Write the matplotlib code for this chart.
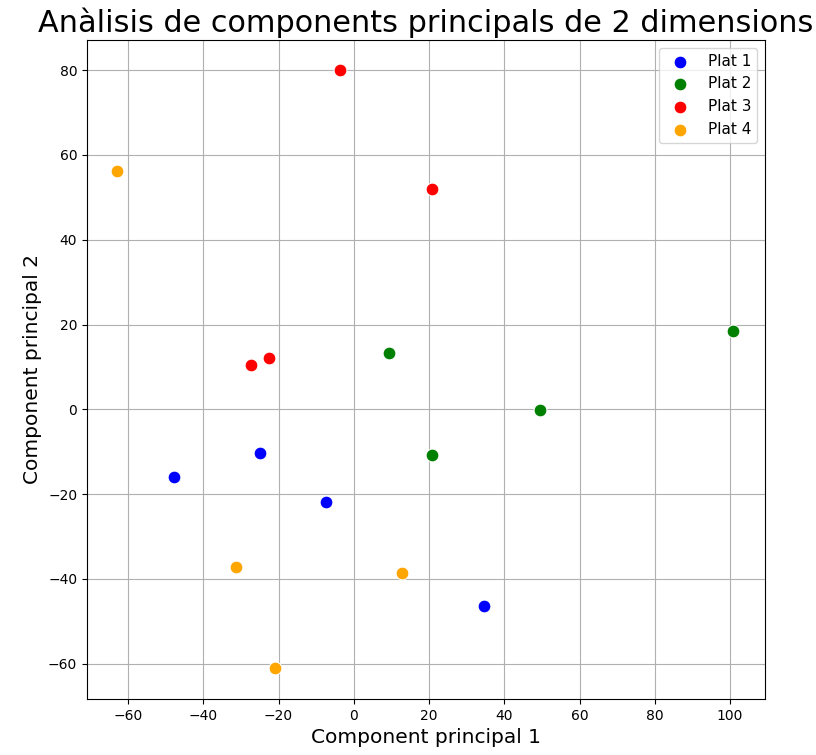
import matplotlib.pyplot as plt

# PCA scores per dish (component 1, component 2)
plats = ['Plat 1', 'Plat 2', 'Plat 3', 'Plat 4']
colors = ['blue', 'green', 'red', 'orange']
pc1 = [
    [-47.9, -25.0, -7.4, 34.6],
    [9.3, 49.5, 20.7, 100.8],
    [-3.7, 20.7, -27.4, -22.6],
    [-63.0, -31.4, 12.8, -21.0],
]
pc2 = [
    [-16.0, -10.3, -21.9, -46.4],
    [13.3, -0.2, -10.8, 18.5],
    [80.0, 52.0, 10.5, 12.1],
    [56.2, -37.2, -38.6, -61.0],
]

fig = plt.figure(figsize=(8.16, 7.55), dpi=100)
ax = fig.add_axes([87/816, 1-699/755, (765-87)/816, (699-40)/755])

for name, c, xs, ys in zip(plats, colors, pc1, pc2):
    ax.scatter(xs, ys, s=85, c=c, edgecolors='white', linewidths=0.75,
               label=name, zorder=3)

ax.set_xlim(-70.9, 109.3)
ax.set_ylim(-68.3, 87.1)
ax.set_xticks(range(-60, 101, 20))
ax.set_yticks(range(-60, 81, 20))
ax.tick_params(labelsize=10)
ax.grid(True, color='#b0b0b0', linewidth=0.8)
ax.set_axisbelow(True)

ax.set_title('Anàlisis de components principals de 2 dimensions', fontsize=21.8)
ax.set_xlabel('Component principal 1', fontsize=14.5)
ax.set_ylabel('Component principal 2', fontsize=14.5)
ax.legend(loc='upper right', fontsize=11)

fig.savefig('out.png', dpi=100)
